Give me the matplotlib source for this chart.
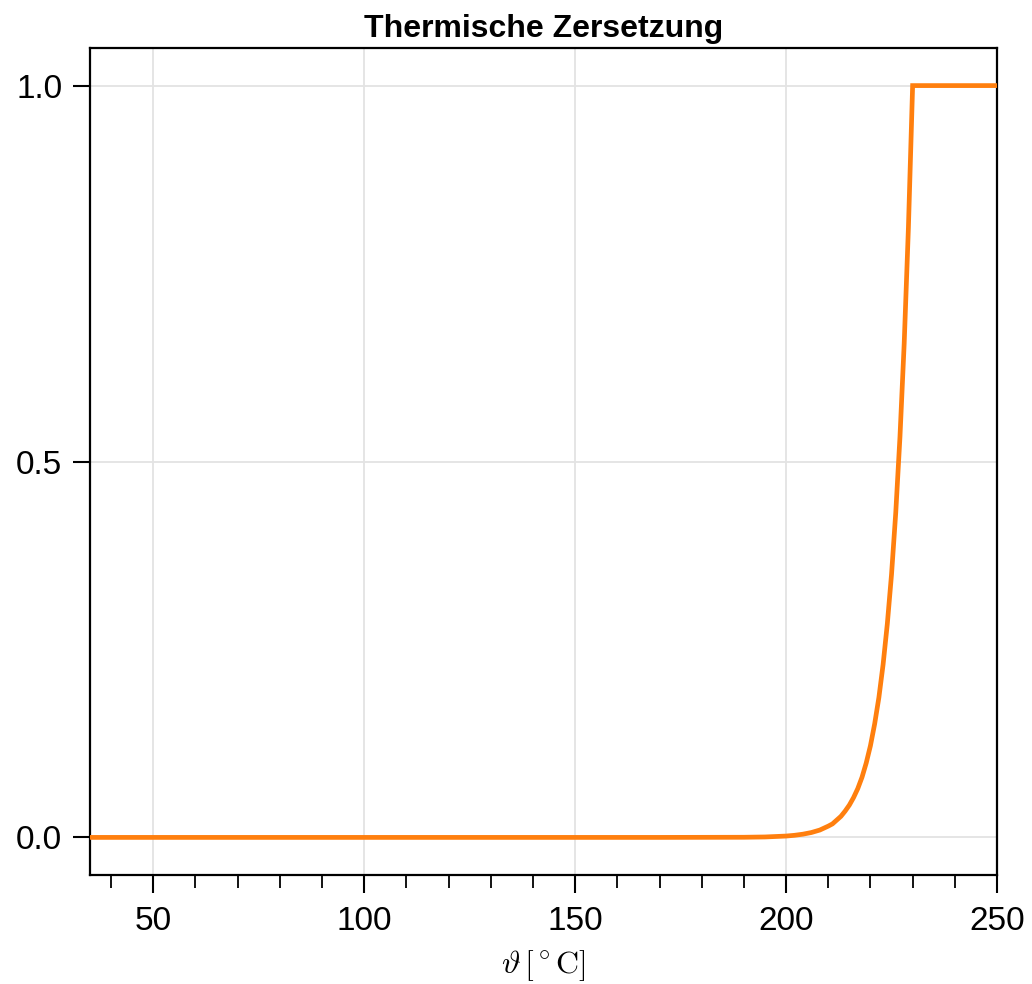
import matplotlib
matplotlib.use("Agg")
import matplotlib.pyplot as plt
from matplotlib.ticker import MultipleLocator

# Data (temperature in °C, decomposed fraction)
temperature = [35, 60, 90, 120, 150, 170, 180, 190, 195, 200, 202, 204, 206, 208,
               210, 211, 212, 213, 214, 215, 216, 217, 218, 219, 220, 221, 222,
               223, 224, 225, 226, 227, 228, 229, 230, 240, 250]
fraction = [0.0, 0.0, 0.0, 0.0, 0.0, 0.0, 0.0001, 0.0002, 0.0006, 0.0018, 0.0028,
            0.0043, 0.0065, 0.0098, 0.015, 0.018, 0.023, 0.028, 0.035, 0.043,
            0.053, 0.065, 0.080, 0.099, 0.122, 0.151, 0.186, 0.230, 0.284,
            0.350, 0.432, 0.533, 0.657, 0.811, 1.0, 1.0, 1.0]

x_major = [50, 100, 150, 200, 250]
y_major = [0.0, 0.5, 1.0]
y_labels = ["0.0", "0.5", "1.0"]

plt.rcParams['font.family'] = ['Liberation Sans', 'DejaVu Sans']
plt.rcParams['mathtext.fontset'] = 'cm'

fig = plt.figure(figsize=(10.32, 9.84), dpi=100)
ax = fig.add_axes([90/1032, 1-875/984, (997-90)/1032, (875-48)/984])

ax.plot(temperature, fraction, color='#ff7f0e', lw=3.4, solid_joinstyle='miter', zorder=3)

ax.set_xlim(35, 250)
ax.set_ylim(-0.05, 1.05)
ax.set_xticks(x_major)
ax.xaxis.set_minor_locator(MultipleLocator(10))
ax.set_yticks(y_major)
ax.set_yticklabels(y_labels)

ax.grid(True, which='major', color='#e3e3e3', lw=1.3, zorder=0)
for s in ax.spines.values():
    s.set_linewidth(1.6)
    s.set_color('black')

ax.tick_params(axis='x', which='major', direction='out', length=13, width=1.5,
               labelsize=24, pad=9)
ax.tick_params(axis='y', which='major', direction='out', length=12, width=1.5,
               labelsize=24, pad=8)
ax.tick_params(axis='x', which='minor', direction='out', length=9, width=1.3)
ax.tick_params(axis='y', which='minor', left=False)

ax.set_xlabel(r'$\vartheta\,[^\circ\mathrm{C}]$', fontsize=23, labelpad=8)
ax.set_title('Thermische Zersetzung', fontsize=23, fontweight='bold', pad=8)

fig.savefig('out.png', dpi=100)
